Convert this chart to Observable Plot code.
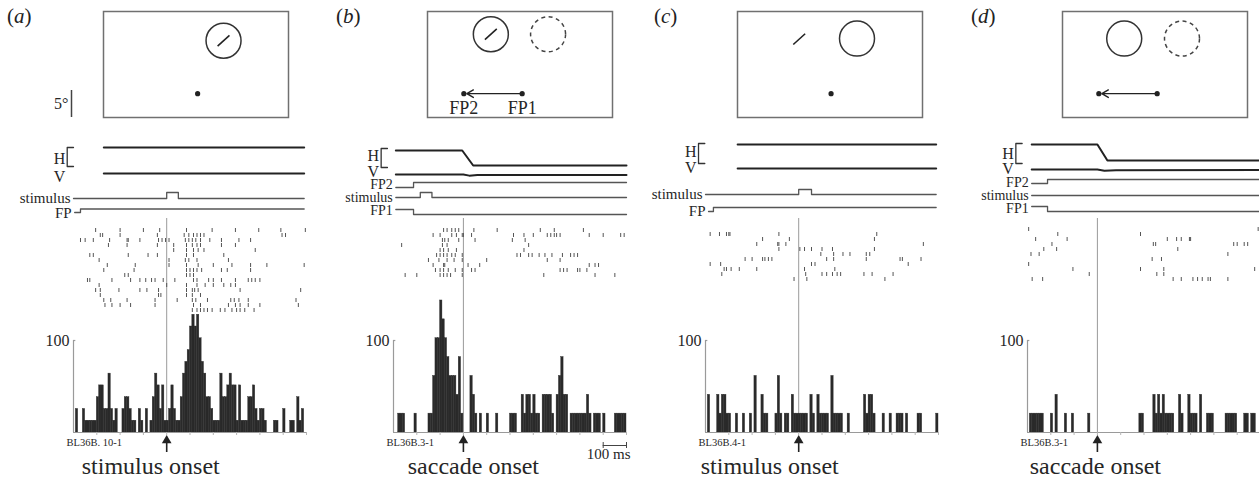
<!DOCTYPE html>
<html><head><meta charset="utf-8">
<script src="https://cdn.jsdelivr.net/npm/d3@7"></script>
<script src="https://cdn.jsdelivr.net/npm/@observablehq/plot@0.6"></script>
<style>
body{margin:0;background:#fff;}
#fig{position:relative;width:1259px;height:482px;overflow:hidden;background:#fff;font-family:'Liberation Serif',serif;}
.plab{position:absolute;font-size:21px;color:#222;font-family:'Liberation Serif',serif;}
</style></head><body><div id="fig"></div>
<script>
// ---------------- DATA ----------------
const panelLetters = ["a", "b", "c", "d"];
const alignLabels = ["stimulus onset", "saccade onset", "stimulus onset", "saccade onset"];
const cellIds = ["BL36B. 10-1", "BL36B.3-1", "BL36B.4-1", "BL36B.3-1"];
const timeDomains = [[-400, 600], [-300, 700], [-400, 600], [-300, 700]];
const binMs = 10;
const ratePerSpike = [12.8, 20.5, 20.5, 20.5]; // spikes/s represented by one spike in a bin
const yTickValue = 100;
const scaleBarB = {start: 600, length: 100, label: "100 ms"};

// histogram spike counts per 10 ms bin
const histCountsA = [0,2,0,0,2,1,1,1,1,1, 3,4,4,2,2,5,2,1,2,0, 0,2,3,3,2,1,1,0,2,1, 0,2,0,1,3,5,4,2,4,1,
  1,2,4,2,1,1,3,5,6,7, 9,10,9,10,8,6,5,3,3,2, 1,1,1,5,3,3,4,5,4,4, 1,4,1,1,1,3,3,4,2,1, 2,2,1,0,0,0,1,1,0,0, 2,0,0,1,1,0,3,1,2,0];
const histCountsB = [0,0,1,1,1,0,0,0,0,1, 0,0,0,0,0,1,1,3,5,5, 7,6,5,4,3,3,3,2,4,1, 0,0,0,3,2,1,0,1,0,0,
  1,0,0,0,1,0,0,0,0,0, 1,1,1,0,0,2,1,2,2,1, 2,1,1,0,2,2,2,2,1,0, 2,3,4,2,2,0,1,1,1,1, 1,1,1,2,1,0,1,1,1,0, 1,0,0,0,0,1,1,1,1,1];
const histCountsC = [0,2,0,0,0,2,1,2,2,1, 1,0,0,1,0,0,1,0,0,1, 0,3,0,0,2,1,1,0,0,0, 1,3,1,0,1,1,0,2,1,1,
  1,1,1,1,0,2,1,0,2,1, 1,1,1,0,3,1,1,1,1,0, 0,1,0,0,0,0,0,0,2,1, 2,2,1,0,0,0,1,0,0,1, 0,0,1,1,1,0,1,0,0,0, 0,1,1,0,0,0,0,0,0,1];
const histCountsD = [0,1,1,1,1,1,1,0,0,0, 1,0,2,0,0,0,1,0,0,1, 0,0,0,0,0,0,1,0,0,0, 0,0,0,0,0,0,0,0,0,0,
  0,0,0,0,0,0,0,0,1,1, 0,0,0,0,2,1,2,1,2,1, 1,1,1,0,0,2,1,0,0,2, 1,1,1,0,2,0,0,1,1,1, 0,0,0,0,0,1,1,1,1,1, 0,0,0,1,1,0,1,1,0,0];

// raster: spike times (ms) per trial
const rasterA = [
  [-305,-200,-100,-30,85,195,295,395,490,595],
  [-285,-275,-200,-40,75,95,115,130,145,160,495,510],
  [-370,-350,-315,-245,-170,-165,-115,-35,-20,-5,10,80,95,110,125,145,185,235,310,360],
  [-250,-170,-40,30,85,110,130,145,235,295],
  [30,85,115,135,160,380],
  [-330,-315,-165,-80,-40,85,115,245],
  [-290,10,80,95,130,265],
  [-255,-135,10,85,135,200,280,360,430,590],
  [-270,-140,85,100,115,130,150,235,260,360],
  [-180,-165,85,100,115],
  [-340,-330,-235,-155,-115,-90,-65,-50,-15,35,115,130,180,200,235,295,350,365,380,400],
  [-290,0,85,130,165,200,245,275,295],
  [-305,-285,-205,-115,-85,-35,85,110,120,135,315,575],
  [-285,-35,-25,85,110,145],
  [-270,-240,-170,-50,45,110,125,175,275,290,310,350,555],
  [-265,-235,-200,-155,-50,115,145,265,295,315,350,400,565],
  [110,130,145,160,175,195,230,250,280,300,315,335,375]
];
const rasterB = [
  [-85,-70,-50,-35,-20,45,145,330,390,515],
  [-130,-100,-50,-30,-5,0,35,215,260,300,360,375,390,400,415,540,600,675,690],
  [-90,-80,-65,-20,50,210,265],
  [-265,-90,-70,280],
  [-100,-85,-65,-30,260],
  [-115,-100,-85,-70,-50,-35,-5,230,245,280,295,325,350,380,425,460,475,490],
  [-150,-105,-70,-40,-5,100,360,415],
  [-130,-85,-80,20,70,540,565,580],
  [-120,-100,-85,-65,-35,-5,35,50,415,430,445,490,500,530],
  [-250,-200,-100,-85,-70,-55,-5,345,565,650]
];
const rasterC = [
  [-380,-340,-310,-300,-295,-85,335],
  [-155,-40,325],
  [-180,-90,-85,-55,535],
  [-85,5,25,55,100,145,325],
  [95,150,190,220,290,305],
  [-230,-200,-155,-145,-130,-115,120,150,290,435,445,525],
  [-380,-335,55,70,470],
  [-320,-310,-290,-255,-180,25,155],
  [-330,30,100,120,145,165,180,280,315,405],
  [-20,35,370]
];
const rasterD = [
  [-295,690],
  [-170,185],
  [-265,-130,300,340,360,395,400],
  [-195,240,250,585,600,630,645],
  [-230,-175,345],
  [-285,-250,560],
  [235,275],
  [-295],
  [-105,185,285,675],
  [-35,255,285],
  [-280,-235,325,360,410,430,450,475,485,560]
];

// eye position traces [time ms, degrees]
const eyeHA = [[-270,0],[590,0]];
const eyeVA = [[-270,0],[590,0]];
const eyeHB = [[-290,0],[-5,0],[42,-7.9],[700,-7.9]];
const eyeVB = [[-290,0],[0,0],[25,-0.6],[60,-0.3],[700,-0.3]];
const eyeHC = [[-262,0],[590,0]];
const eyeVC = [[-262,0],[590,0]];
const eyeHD = [[-282,0],[0,0],[43,-8.4],[700,-8.4]];
const eyeVD = [[-282,0],[0,0],[30,-0.6],[80,-0.4],[700,-0.3]];

// event signals: [time ms, new level]
const stimA = [[0,1],[50,0]];
const fpA = [[-370,1]];
const fp2B = [[-214,1]];
const stimB = [[-185,1],[-135,0]];
const fp1B = [[-214,0]];
const stimC = [[0,1],[55,0]];
const fpC = [[-366,1]];
const fp2D = [[-214,1]];
const stimD = [];
const fp1D = [[-214,0]];

// visual scenes, degrees relative to screen centre
const fixA = [[0.3,-5.4]];
const solidA = [[5.1,4.4]];
const dashedA = [];
const barsA = [[5.1,4.4]];
const fixB = [[-10.4,-5.4],[0.4,-5.4]];
const solidB = [[-5.4,5.6]];
const dashedB = [[5.2,5.6]];
const barsB = [[-5.4,5.6]];
const saccadeB = [[0.4,-5.4],[-10.4,-5.4]];
const fpNamesB = ["FP2","FP1"];
const fixC = [[0.2,-5.4]];
const solidC = [[5.0,4.8]];
const dashedC = [];
const barsC = [[-5.7,4.7]];
const fixD = [[-10.4,-5.4],[0.4,-5.4]];
const solidD = [[-5.7,4.8]];
const dashedD = [[5.0,4.8]];
const barsD = [];
const saccadeD = [[0.4,-5.4],[-10.4,-5.4]];
const scaleDeg = 5;

// ---------------- LAYOUT ----------------
const FONT = "Liberation Serif";
const INK = "#262626";
const fig = document.getElementById("fig");
const PXMS = 0.233, ML = 60, MR = 20, TW = 1000 * PXMS;
const X0 = [73.3, 393.3, 705, 1026.7];
const boxLeft = [103, 427, 737, 1062];
const letterLeft = [7, 336, 654, 971];
const onsetDx = [-16, 10, -29, -2];
const PXDEG = 5.4, BOXW = 185, BOXH = 106;

function place(el, left, top) {
  el.setAttribute("style", `position:absolute;left:${left}px;top:${top}px;background:none;overflow:visible;max-width:none;`);
  fig.appendChild(el);
}
function steps(start, end, init, changes) {
  const pts = [[start, init]];
  let lvl = init;
  for (const [t, l] of changes) { pts.push([t, lvl], [t, l]); lvl = l; }
  pts.push([end, lvl]);
  return pts;
}
const txt = (o) => ({fontFamily: FONT, fill: INK, ...o});

const eyeH = [eyeHA, eyeHB, eyeHC, eyeHD];
const eyeV = [eyeVA, eyeVB, eyeVC, eyeVD];
const rasters = [rasterA, rasterB, rasterC, rasterD];
const hists = [histCountsA, histCountsB, histCountsC, histCountsD];
const traceEnd = [590, 700, 590, 700];
const traceLayout = [
  {h:147, v:173, gain:1.9, br:{t:-427, top:147, bottom:166}, hy:158, vy:176, fs:15,
   sig:[{label:"stimulus", d:stimA, init:0, base:198, amp:6, start:-400, ly:198},
        {label:"FP", d:fpA, init:0, base:212, amp:3.5, start:-395, ly:213}]},
  {h:150, v:174, gain:1.9, br:{t:-353, top:148, bottom:167}, hy:155, vy:171, fs:14,
   sig:[{label:"FP2", d:fp2B, init:0, base:187, amp:5, start:-290, ly:184},
        {label:"stimulus", d:stimB, init:0, base:197, amp:5, start:-290, ly:197},
        {label:"FP1", d:fp1B, init:1, base:214, amp:5, start:-290, ly:210}]},
  {h:144, v:168, gain:1.9, br:{t:-430, top:143, bottom:163}, hy:151, vy:167, fs:15,
   sig:[{label:"stimulus", d:stimC, init:0, base:194, amp:5, start:-400, ly:194},
        {label:"FP", d:fpC, init:0, base:211, amp:4, start:-387, ly:211}]},
  {h:144, v:169, gain:1.9, br:{t:-350, top:143, bottom:163}, hy:153, vy:168, fs:14,
   sig:[{label:"FP2", d:fp2D, init:0, base:183, amp:4, start:-282, ly:182},
        {label:"stimulus", d:stimD, init:0, base:195, amp:0, start:-282, ly:195},
        {label:"FP1", d:fp1D, init:1, base:211, amp:5, start:-282, ly:208}]}
];
const rasterLayout = [{top:227, bottom:313}, {top:227, bottom:279}, {top:231, bottom:283}, {top:226, bottom:283}];
const scenes = [
  {fix:fixA, solid:solidA, dashed:dashedA, bars:barsA, sac:null},
  {fix:fixB, solid:solidB, dashed:dashedB, bars:barsB, sac:saccadeB, names:fpNamesB},
  {fix:fixC, solid:solidC, dashed:dashedC, bars:barsC, sac:null},
  {fix:fixD, solid:solidD, dashed:dashedD, bars:barsD, sac:saccadeD}
];

// ---------------- DRAW ----------------
panelLetters.forEach((L, i) => {
  const div = document.createElement("div");
  div.className = "plab";
  div.style.left = letterLeft[i] + "px";
  div.style.top = "4px";
  div.innerHTML = `(<i>${L}</i>)`;
  fig.appendChild(div);
});

// scenes
scenes.forEach((s, i) => {
  const xd = BOXW / 2 / PXDEG, yd = BOXH / 2 / PXDEG;
  const marks = [
    Plot.frame({stroke: "#707070", strokeWidth: 1.5}),
    Plot.dot(s.solid, {x: d => d[0], y: d => d[1], r: 17.5, stroke: "#333", strokeWidth: 1.5, fill: "none"}),
    Plot.dot(s.dashed, {x: d => d[0], y: d => d[1], r: 17.5, stroke: "#444", strokeWidth: 1.5, fill: "none", strokeDasharray: "4,3.5"}),
    Plot.link(s.bars, {x1: d => d[0] - 1.1, y1: d => d[1] - 1.0, x2: d => d[0] + 1.1, y2: d => d[1] + 1.0, stroke: "#222", strokeWidth: 1.6}),
    Plot.dot(s.fix, {x: d => d[0], y: d => d[1], r: 2.6, fill: "#222"})
  ];
  if (s.sac) {
    marks.push(Plot.arrow([s.sac], {x1: d => d[0][0], y1: d => d[0][1], x2: d => d[1][0], y2: d => d[1][1],
      stroke: "#222", strokeWidth: 1.4, headLength: 8, insetEnd: 3}));
  }
  if (s.names) {
    marks.push(Plot.text(s.fix, txt({x: d => d[0], y: d => d[1], text: (d, k) => s.names[k], dy: 15, fontSize: 18})));
  }
  if (i === 0) {
    marks.push(Plot.ruleX([-xd], {y1: -yd, y2: -yd + scaleDeg, dx: -32, stroke: "#444", strokeWidth: 1.5}));
    marks.push(Plot.text([scaleDeg + "°"], txt({x: -xd, y: -yd + scaleDeg / 2, dx: -35, textAnchor: "end", fontSize: 16})));
  }
  const el = Plot.plot({
    width: 45 + BOXW + 12, height: 11 + BOXH + 8,
    marginLeft: 45, marginRight: 12, marginTop: 11, marginBottom: 8,
    x: {domain: [-xd, xd], axis: null}, y: {domain: [-yd, yd], axis: null},
    marks
  });
  place(el, boxLeft[i] - 45, 0);
});

// traces
traceLayout.forEach((T, i) => {
  const top = 132, H = 88;
  const sx = {domain: timeDomains[i], range: [ML, ML + TW], axis: null};
  const sy = {domain: [top, top + H], range: [0, H], axis: null};
  const eye = (arr, base) => arr.map(([t, v]) => ({t, y: base - v * T.gain}));
  const marks = [
    Plot.line(eye(eyeH[i], T.h), {x: "t", y: "y", stroke: "#222", strokeWidth: 2}),
    Plot.line(eye(eyeV[i], T.v), {x: "t", y: "y", stroke: "#222", strokeWidth: 2}),
    Plot.text(["H"], txt({x: T.br.t, y: T.hy, dx: -2, textAnchor: "end", fontSize: 16})),
    Plot.text(["V"], txt({x: T.br.t, y: T.vy, dx: -2, textAnchor: "end", fontSize: 16})),
    Plot.line([[T.br.t + 27, T.br.top], [T.br.t, T.br.top], [T.br.t, T.br.bottom], [T.br.t + 27, T.br.bottom]],
      {x: d => d[0], y: d => d[1], stroke: "#333", strokeWidth: 1.3})
  ];
  T.sig.forEach(S => {
    const pts = steps(S.start, traceEnd[i], S.init, S.d).map(([t, l]) => ({t, y: S.base - l * S.amp}));
    marks.push(Plot.line(pts, {x: "t", y: "y", stroke: "#555", strokeWidth: 1.3}));
    marks.push(Plot.text([S.label], txt({x: S.start, y: S.ly, dx: -3, textAnchor: "end", fontSize: T.fs})));
  });
  const el = Plot.plot({width: ML + TW + MR, height: H, marginLeft: ML, marginRight: MR, marginTop: 0, marginBottom: 0,
    x: sx, y: sy, marks});
  place(el, X0[i] - ML, top);
});

// rasters
const HIST_TOP = 312;
rasters.forEach((rows, i) => {
  const R = rasterLayout[i];
  const top = 218, H = HIST_TOP - top;
  const spikes = rows.flatMap((r, k) => r.map(t => ({t, trial: k})));
  const el = Plot.plot({width: ML + TW + MR, height: H, marginLeft: ML, marginRight: MR, marginTop: 0, marginBottom: 0,
    x: {domain: timeDomains[i], range: [ML, ML + TW], axis: null},
    y: {type: "band", domain: d3.range(rows.length), range: [R.top - top, R.bottom - top], padding: 0.15, axis: null},
    marks: [
      Plot.ruleX([0], {stroke: "#9a9a9a", strokeWidth: 1}),
      Plot.tickX(spikes, {x: "t", y: "trial", stroke: "#555", strokeWidth: 1})
    ]});
  place(el, X0[i] - ML, top);
});

// histograms
const YPX = 0.92, HH = 120, YMAX = HH / YPX;
const below = px => -px / YPX;
hists.forEach((counts, i) => {
  const [t0, t1] = timeDomains[i];
  const bins = counts.map((c, k) => ({x1: t0 + k * binMs, x2: t0 + (k + 1) * binMs, rate: c * ratePerSpike[i]})).filter(d => d.rate > 0);
  const ticks = d3.range(t0 + 100, t1 + 1, 100);
  const marks = [
    Plot.ruleX([0], {y1: 0, y2: YMAX, stroke: "#9a9a9a", strokeWidth: 1}),
    Plot.rectY(bins, {x1: "x1", x2: "x2", y: "rate", fill: "#2a2a2a", stroke: "#2a2a2a", strokeWidth: 0.4}),
    Plot.ruleY([0], {x1: t0, x2: t1, stroke: "#9a9a9a", strokeWidth: 1.2}),
    Plot.ruleX([t0], {y1: 0, y2: yTickValue, stroke: "#9a9a9a", strokeWidth: 1.2}),
    Plot.ruleY([yTickValue], {x1: t0, x2: t0 + 10, stroke: "#9a9a9a", strokeWidth: 1.2}),
    Plot.text([String(yTickValue)], txt({x: t0, y: yTickValue, dx: -4, textAnchor: "end", fontSize: 16})),
    Plot.ruleX(ticks, {y1: 0, y2: below(3), stroke: "#b5b5b5", strokeWidth: 1}),
    Plot.text([cellIds[i]], txt({x: t0, y: below(10), dx: -7, textAnchor: "start", fontSize: 10.5})),
    Plot.ruleX([0], {y1: below(8), y2: below(20), stroke: "#222", strokeWidth: 1.6}),
    Plot.dot([0], {x: d => d, y: below(8), symbol: "triangle", r: 3.6, fill: "#222"}),
    Plot.text([alignLabels[i]], txt({x: 0, y: below(34), dx: onsetDx[i], fontSize: 24}))
  ];
  if (i === 1) {
    const a = scaleBarB.start, b = scaleBarB.start + scaleBarB.length;
    marks.push(Plot.ruleY([below(13)], {x1: a, x2: b, stroke: "#444", strokeWidth: 1}));
    marks.push(Plot.ruleX([a, b], {y1: below(10), y2: below(16), stroke: "#444", strokeWidth: 1}));
    marks.push(Plot.text([scaleBarB.label], txt({x: b, y: below(22), dx: 4, textAnchor: "end", fontSize: 15})));
  }
  const el = Plot.plot({width: ML + TW + MR, height: HH + 50, marginLeft: ML, marginRight: MR, marginTop: 0, marginBottom: 50,
    x: {domain: timeDomains[i], range: [ML, ML + TW], axis: null},
    y: {domain: [0, YMAX], range: [HH, 0], axis: null},
    marks});
  place(el, X0[i] - ML, HIST_TOP);
});
</script></body></html>
